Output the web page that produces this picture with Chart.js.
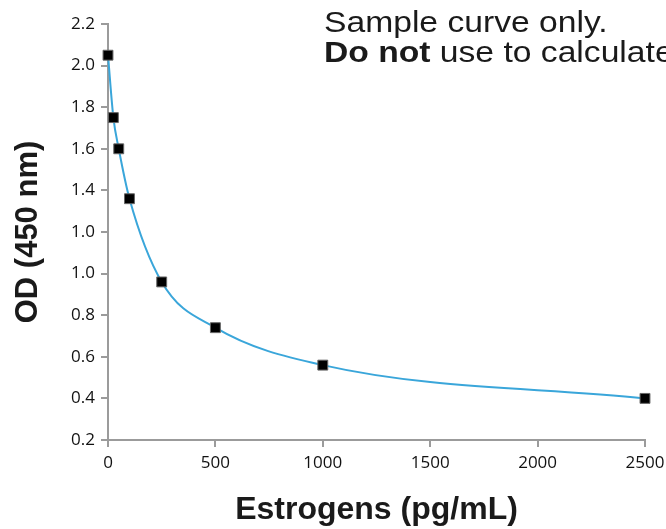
<!DOCTYPE html>
<html>
<head>
<meta charset="utf-8">
<script src="https://cdn.jsdelivr.net/npm/chart.js@4"></script>
<style>
  html, body { margin: 0; padding: 0; background: #fff; }
  #wrap { width: 666px; height: 529px; }
</style>
</head>
<body>
<div id="wrap"><canvas id="c" width="666" height="529"></canvas></div>
<script>
const concentrations = [0, 25, 50, 100, 250, 500, 1000, 2500];
const odValues = [2.05, 1.75, 1.60, 1.36, 0.96, 0.74, 0.56, 0.40];
const yTickLabels = ['0.2','0.4','0.6','0.8','1.0','1.0','1.4','1.6','1.8','2.0','2.2'];
const xTickLabels = ['0','500','1000','1500','2000','2500'];
const noteLine1 = 'Sample curve only.';
const noteBold = 'Do not';
const noteRest = ' use to calculate';

const axisColor = '#9b9b9b';
const tickFont = { family: '"Open Sans", sans-serif', size: 17 };

const notePlugin = {
  id: 'note',
  afterDraw(chart) {
    const ctx = chart.ctx;
    ctx.save();
    ctx.fillStyle = '#1a1a1a';
    ctx.textBaseline = 'alphabetic';
    ctx.translate(324, 0);
    ctx.scale(1.16, 1);
    ctx.font = '29px "Liberation Sans", Arial, sans-serif';
    ctx.fillText(noteLine1, 0, 32);
    ctx.font = 'bold 29px "Liberation Sans", Arial, sans-serif';
    ctx.fillText(noteBold, 0, 62);
    const w = ctx.measureText(noteBold).width;
    ctx.font = '29px "Liberation Sans", Arial, sans-serif';
    ctx.fillText(noteRest, w, 62);
    ctx.restore();
  }
};

new Chart(document.getElementById('c'), {
  type: 'scatter',
  data: {
    datasets: [{
      data: concentrations.map((x, i) => ({ x: x, y: odValues[i] })),
      showLine: true,
      cubicInterpolationMode: 'monotone',
      borderColor: '#3aa6da',
      borderWidth: 2,
      pointStyle: 'rect',
      pointRadius: 7,
      pointHoverRadius: 7,
      pointBackgroundColor: '#000',
      pointBorderColor: '#666',
      pointBorderWidth: 1,
      clip: false
    }]
  },
  options: {
    responsive: false,
    animation: false,
    events: [],
    layout: { padding: { left: 0, right: 21, top: 24, bottom: 0 } },
    plugins: { legend: { display: false }, tooltip: { enabled: false } },
    scales: {
      x: {
        type: 'linear',
        min: 0, max: 2500,
        afterFit(axis) { axis.height = 89; axis.paddingRight = 0; axis.paddingLeft = 0; },
        border: { color: axisColor, width: 2 },
        grid: { drawOnChartArea: false, drawTicks: true, tickLength: 7, color: axisColor, lineWidth: 2 },
        ticks: {
          stepSize: 500,
          color: '#111',
          font: tickFont,
          padding: 6,
          maxRotation: 0,
          callback: (v, i) => xTickLabels[i]
        },
        title: {
          display: true,
          text: 'Estrogens (pg/mL)',
          color: '#1a1a1a',
          font: { family: '"Liberation Sans", Arial, sans-serif', size: 32, weight: 'bold' },
          padding: { top: 0, bottom: 0 }
        }
      },
      y: {
        type: 'linear',
        min: 0.2, max: 2.2,
        afterFit(axis) { axis.width = 108; axis.paddingTop = 0; axis.paddingBottom = 0; },
        border: { color: axisColor, width: 2 },
        grid: { drawOnChartArea: false, drawTicks: true, tickLength: 7, color: axisColor, lineWidth: 2 },
        ticks: {
          stepSize: 0.2,
          color: '#111',
          font: tickFont,
          padding: 6,
          callback: (v, i) => yTickLabels[i]
        },
        title: {
          display: true,
          text: 'OD (450 nm)',
          color: '#1a1a1a',
          font: { family: '"Liberation Sans", Arial, sans-serif', size: 31, weight: 'bold' },
          padding: { top: 10, bottom: 0 }
        }
      }
    }
  },
  plugins: [notePlugin]
});
</script>
</body>
</html>
